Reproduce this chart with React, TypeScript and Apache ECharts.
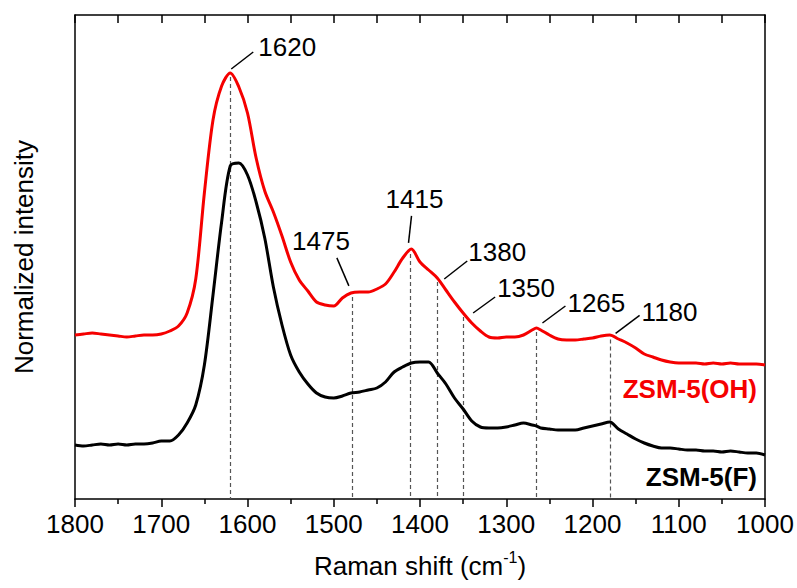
import React, { useEffect, useRef } from "react";
import * as echarts from "echarts";

// Raman shift (cm-1)
const shifts = [
  1800, 1790, 1780, 1770, 1760, 1750, 1740, 1730, 1720, 1710, 1700, 1690, 1680, 1670, 1660,
  1650, 1640, 1630, 1620, 1610, 1600, 1590, 1580, 1570, 1560, 1550, 1540, 1530, 1520, 1510,
  1500, 1490, 1480, 1470, 1460, 1450, 1440, 1430, 1420, 1410, 1400, 1390, 1380, 1370, 1360,
  1350, 1340, 1330, 1320, 1310, 1300, 1290, 1280, 1270, 1265, 1260, 1250, 1240, 1230, 1220,
  1210, 1200, 1190, 1180, 1170, 1160, 1150, 1140, 1130, 1120, 1110, 1100, 1090, 1080, 1070,
  1060, 1050, 1040, 1030, 1020, 1010, 1000,
];

// ZSM-5(OH) (red), arbitrary units
const ohValues = [
  164, 165, 166, 165, 164, 163, 162, 163, 164, 164, 165, 168, 173, 186, 220,
  306, 379, 413, 426, 412, 386, 341, 308, 287, 263, 237, 219, 208, 197, 194,
  193, 201, 206, 207, 207, 210, 215, 227, 241, 250, 237, 229, 221, 209, 197,
  186, 176, 168, 162, 161, 162, 162, 164, 169, 171, 169, 164, 160, 159, 159,
  160, 161, 163, 164, 160, 156, 151, 145, 142, 139, 137, 136, 136, 136, 135,
  136, 135, 136, 135, 135, 135, 134,
];

// ZSM-5(F) (black), arbitrary units
const fValues = [
  54, 53, 54, 55, 54, 55, 54, 55, 55, 56, 58, 58, 64, 76, 94,
  134, 204, 277, 333, 336, 324, 297, 261, 212, 174, 144, 127, 115, 106, 102,
  101, 103, 106, 107, 109, 111, 117, 127, 132, 136, 137, 137, 126, 115, 101,
  90, 78, 72, 71, 71, 72, 74, 76, 74, 73, 71, 70, 69, 69, 69,
  71, 73, 75, 77, 70, 65, 60, 56, 53, 51, 51, 50, 49, 49, 48,
  48, 47, 48, 47, 46, 46, 44,
];

// Peak annotations: label text and the shift where the dashed guide is drawn
const peakLabels = ["1620", "1475", "1415", "1380", "1350", "1265", "1180"];
const peakGuides = [1620, 1479, 1411, 1380, 1350, 1265, 1179];

const seriesNames = ["ZSM-5(OH)", "ZSM-5(F)"];

// Layout of leader lines / texts relative to the anchor on the red curve (pixels)
const leaderLayout = [
  { sx: 1, sy: -4, ex: 23, ey: -21, tx: 28, ty: -26, align: "left" },
  { sx: -3, sy: -7, ex: -15, ey: -35, tx: -2, ty: -52, align: "right" },
  { sx: -2, sy: -7, ex: 1, ey: -34, tx: 4, ty: -51, align: "center" },
  { sx: 7, sy: 1, ex: 30, ey: -17, tx: 31, ty: -26, align: "left" },
  { sx: 10, sy: 0, ex: 32, ey: -16, tx: 34, ty: -25, align: "left" },
  { sx: 6, sy: -5, ex: 29, ey: -22, tx: 31, ty: -25, align: "left" },
  { sx: 5, sy: -2, ex: 29, ey: -20, tx: 31, ty: -23, align: "left" },
];

const RED = "#f50000";
const FONT = "'Liberation Sans', Arial, sans-serif";

function interp(xs: number[], ys: number[], x: number): number {
  for (let i = 0; i < xs.length - 1; i++) {
    const a = xs[i];
    const b = xs[i + 1];
    if ((x <= a && x >= b) || (x >= a && x <= b)) {
      const t = (x - a) / (b - a);
      return ys[i] + t * (ys[i + 1] - ys[i]);
    }
  }
  return ys[ys.length - 1];
}

function frameLine() {
  return { show: true, onZero: false, lineStyle: { color: "#000", width: 1.5 } };
}

export default function App() {
  const ref = useRef<HTMLDivElement>(null);

  useEffect(() => {
    if (!ref.current) return;
    const chart = echarts.init(ref.current, null, { renderer: "svg" });

    const ohData = shifts.map((s, i) => [s, ohValues[i]]);
    const fData = shifts.map((s, i) => [s, fValues[i]]);

    const guideData = peakGuides.map((g) => [
      { coord: [g, interp(shifts, ohValues, g) - 4] },
      { coord: [g, 0] },
    ]);

    const option: any = {
      animation: false,
      backgroundColor: "#ffffff",
      grid: { left: 75, right: 32, top: 15, bottom: 89, containLabel: false, outerBoundsMode: "none" },
      xAxis: [
        {
          type: "value",
          inverse: true,
          min: 1000,
          max: 1800,
          interval: 100,
          position: "bottom",
          name: "{a|Raman shift (cm}{s|-1}{a|)}",
          nameLocation: "middle",
          nameGap: 50,
          nameTextStyle: {
            rich: {
              a: { fontFamily: FONT, fontSize: 26, color: "#000", verticalAlign: "bottom", lineHeight: 30 },
              s: { fontFamily: FONT, fontSize: 16, color: "#000", verticalAlign: "top", lineHeight: 30, padding: [0, 0, 14, 0] },
            },
          },
          axisLine: frameLine(),
          axisTick: { show: true, inside: false, length: 8, lineStyle: { color: "#000", width: 1.5 } },
          minorTick: { show: true, splitNumber: 2, length: 5, lineStyle: { color: "#000", width: 1.5 } },
          axisLabel: {
            show: true,
            margin: 12,
            fontFamily: FONT,
            fontSize: 26,
            color: "#000",
            formatter: (v: number) => String(v),
          },
          splitLine: { show: false },
        },
        {
          type: "value",
          inverse: true,
          min: 1000,
          max: 1800,
          interval: 50,
          position: "top",
          axisLine: frameLine(),
          axisTick: { show: true, inside: true, length: 8, lineStyle: { color: "#000", width: 1.5 } },
          axisLabel: { show: false },
          splitLine: { show: false },
        },
      ],
      yAxis: [
        {
          type: "value",
          min: 0,
          max: 484,
          position: "left",
          name: "Normalized intensity",
          nameLocation: "middle",
          nameGap: 38,
          nameRotate: 90,
          nameTextStyle: { fontFamily: FONT, fontSize: 26, color: "#000" },
          axisLine: frameLine(),
          axisTick: { show: false },
          axisLabel: { show: false },
          splitLine: { show: false },
        },
        {
          type: "value",
          min: 0,
          max: 484,
          position: "right",
          axisLine: frameLine(),
          axisTick: { show: false },
          axisLabel: { show: false },
          splitLine: { show: false },
        },
      ],
      series: [
        {
          name: seriesNames[0],
          type: "line",
          data: ohData,
          showSymbol: false,
          smooth: 0.3,
          lineStyle: { color: RED, width: 3 },
          z: 3,
          markLine: {
            silent: true,
            symbol: ["none", "none"],
            label: { show: false },
            lineStyle: { type: [4, 3], color: "#555", width: 1.2 },
            data: guideData,
            z: 1,
          },
        },
        {
          name: seriesNames[1],
          type: "line",
          data: fData,
          showSymbol: false,
          smooth: 0.3,
          lineStyle: { color: "#000", width: 3 },
          z: 3,
        },
      ],
    };

    chart.setOption(option);

    const graphics: any[] = [];
    peakGuides.forEach((g, i) => {
      const p = chart.convertToPixel({ xAxisIndex: 0, yAxisIndex: 0 }, [g, interp(shifts, ohValues, g)]) as number[];
      const L = leaderLayout[i];
      graphics.push({
        type: "line",
        shape: { x1: p[0] + L.sx, y1: p[1] + L.sy, x2: p[0] + L.ex, y2: p[1] + L.ey },
        style: { stroke: "#000", lineWidth: 1.5 },
        z: 10,
      });
      graphics.push({
        type: "text",
        x: p[0] + L.tx,
        y: p[1] + L.ty,
        style: {
          text: peakLabels[i],
          font: `26px ${FONT}`,
          fill: "#000",
          align: L.align,
          verticalAlign: "middle",
        },
        z: 10,
      });
    });

    graphics.push({
      type: "text",
      right: 40,
      top: 376,
      style: { text: seriesNames[0], font: `bold 26px ${FONT}`, fill: RED },
      z: 10,
    });
    graphics.push({
      type: "text",
      right: 40,
      top: 464,
      style: { text: seriesNames[1], font: `bold 26px ${FONT}`, fill: "#000" },
      z: 10,
    });

    chart.setOption({ graphic: graphics });

    return () => {
      chart.dispose();
    };
  }, []);

  return (
    <div
      ref={ref}
      style={{ position: "fixed", left: 0, top: 0, width: 797, height: 588, background: "#fff" }}
    />
  );
}
